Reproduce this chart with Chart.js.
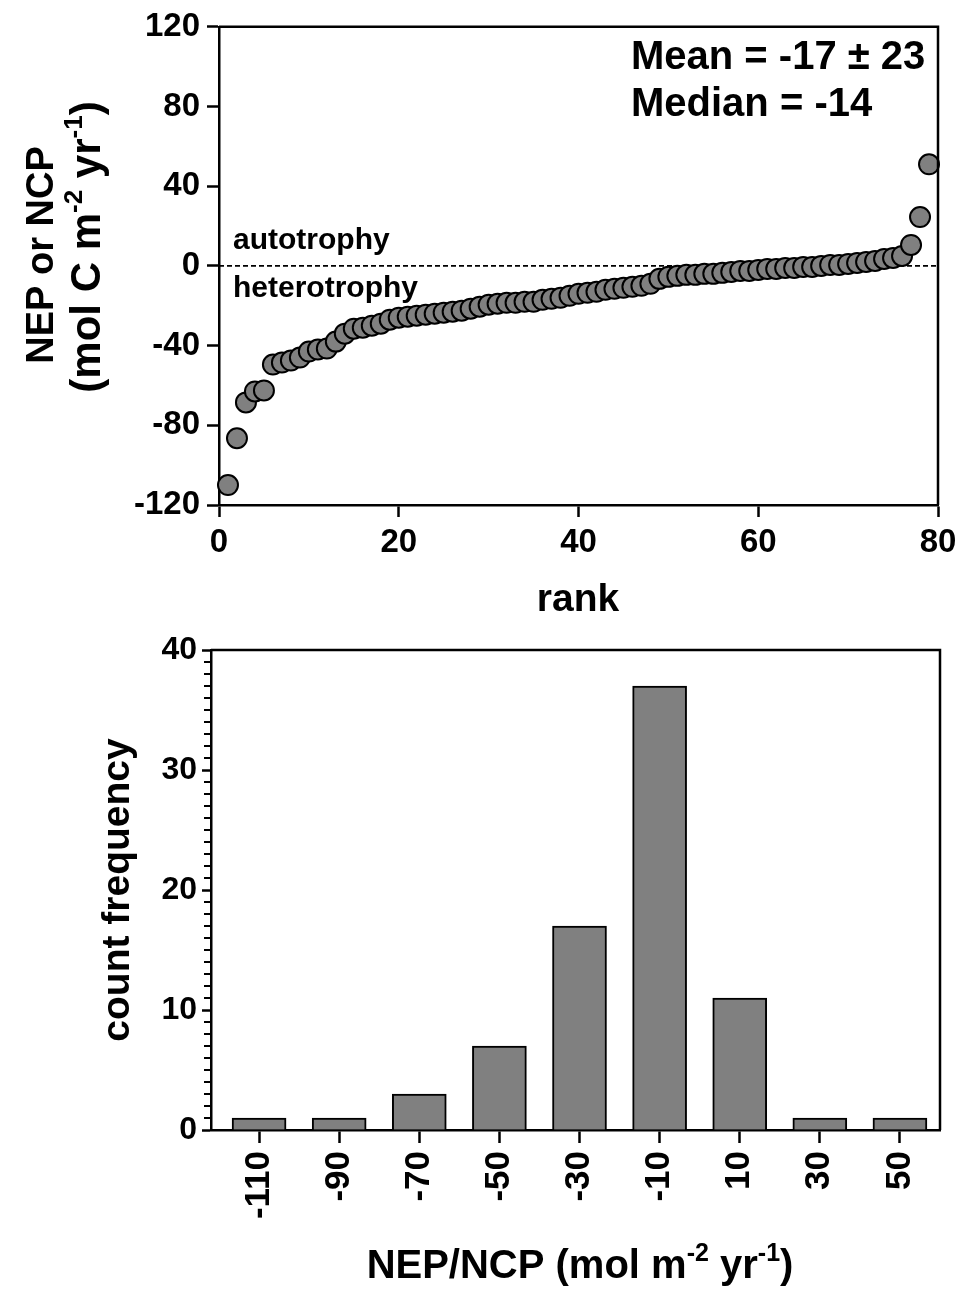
<!DOCTYPE html>
<html>
<head>
<meta charset="utf-8">
<script src="https://cdn.jsdelivr.net/npm/chart.js@4/dist/chart.umd.min.js"></script>
<style>
  body { margin: 0; background: #fff; }
  #wrap { position: relative; width: 963px; height: 1292px; }
  canvas { position: absolute; left: 0; }
  #rankChart { top: 0; }
  #histChart { top: 625px; }
</style>
</head>
<body>
<div id="wrap">
  <canvas id="rankChart" width="963" height="625"></canvas>
  <canvas id="histChart" width="963" height="667"></canvas>
</div>
<script>
// === Data ===
// NEP / NCP sorted, one value per rank (mol C m-2 yr-1)
const nepValues = [
  -110, -86.5, -68.5, -63, -62.5, -49.5, -48.5, -47.5, -46, -43,
  -42, -41.5, -38, -34, -31.5, -31, -30, -29, -27, -26,
  -25.5, -25, -24.5, -24, -23.5, -23, -22.5, -21.5, -20.5, -19.5,
  -19, -18.5, -18.5, -18, -18, -17, -16.5, -16, -15, -14,
  -13.5, -13, -12, -11.5, -11, -10.5, -10, -9, -6.5, -5.5,
  -5, -4.5, -4.5, -4, -4, -3.5, -3, -2.5, -2.5, -2,
  -1.5, -1.5, -1, -1, -0.5, -0.5, 0, 0.5, 0.5, 1,
  1.5, 2, 2.5, 3.5, 4, 5, 10.5, 24.5, 51
];
const rankTicks = [0, 20, 40, 60, 80];
const nepTicks = [-120, -80, -40, 0, 40, 80, 120];

// histogram
const binCenters = [-110, -90, -70, -50, -30, -10, 10, 30, 50];
const binCounts = [1, 1, 3, 7, 17, 37, 11, 1, 1];
const countTicks = [0, 10, 20, 30, 40];

const statLines = ['Mean = -17 \u00b1 23', 'Median = -14'];

const FONT = "'Liberation Sans', Arial, Helvetica, sans-serif";
Chart.defaults.font.family = FONT;
Chart.defaults.color = '#000';

// === Helpers ===
function drawRich(ctx, parts, x, y, size, rotate) {
  ctx.save();
  ctx.translate(x, y);
  if (rotate) ctx.rotate(-Math.PI / 2);
  const big = `bold ${size}px ${FONT}`;
  const small = `bold ${Math.round(size * 0.62)}px ${FONT}`;
  let total = 0;
  parts.forEach(p => {
    ctx.font = p.sup ? small : big;
    p.w = ctx.measureText(p.t).width;
    total += p.w;
  });
  let cx = -total / 2;
  ctx.textBaseline = 'alphabetic';
  ctx.textAlign = 'left';
  ctx.fillStyle = '#000';
  parts.forEach(p => {
    ctx.font = p.sup ? small : big;
    ctx.fillText(p.t, cx, p.sup ? -size * 0.42 : 0);
    cx += p.w;
  });
  ctx.restore();
}

function fixedTicks(values) {
  return scale => { scale.ticks = values.map(v => ({ value: v })); };
}

const framePlugin = {
  id: 'frame',
  afterDraw(chart) {
    const { ctx, chartArea: a } = chart;
    ctx.save();
    ctx.strokeStyle = '#000';
    ctx.lineWidth = 2.5;
    ctx.beginPath();
    ctx.moveTo(a.left, a.top);
    ctx.lineTo(a.right, a.top);
    ctx.lineTo(a.right, a.bottom);
    ctx.stroke();
    ctx.restore();
  }
};

const axisStyle = {
  border: { display: true, color: '#000', width: 2.5 },
  grid: { drawOnChartArea: false, drawTicks: true, color: '#000', tickWidth: 2.5, offset: false }
};

// === Top: ranked NEP/NCP ===
const rankPlugin = {
  id: 'rankText',
  beforeDatasetsDraw(chart) {
    const { ctx, chartArea: a, scales } = chart;
    const y0 = scales.y.getPixelForValue(0);
    ctx.save();
    ctx.strokeStyle = '#000';
    ctx.lineWidth = 1.6;
    ctx.setLineDash([5, 3]);
    ctx.beginPath();
    ctx.moveTo(a.left, y0);
    ctx.lineTo(a.right, y0);
    ctx.stroke();
    ctx.restore();
  },
  afterDraw(chart) {
    const ctx = chart.ctx;
    ctx.save();
    ctx.fillStyle = '#000';
    ctx.textBaseline = 'alphabetic';
    ctx.font = `bold 30px ${FONT}`;
    ctx.fillText('autotrophy', 233, 249);
    ctx.fillText('heterotrophy', 233, 297);
    ctx.font = `bold 40px ${FONT}`;
    ctx.fillText(statLines[0], 631, 69);
    ctx.fillText(statLines[1], 631, 116);
    ctx.restore();
    drawRich(ctx, [{ t: 'rank' }], 578, 611, 39, false);
    drawRich(ctx, [{ t: 'NEP or NCP' }], 53, 255, 38, true);
    drawRich(ctx, [{ t: '(mol C m' }, { t: '-2', sup: true }, { t: ' yr' }, { t: '-1', sup: true }, { t: ')' }],
      100, 247, 42, true);
  }
};

new Chart(document.getElementById('rankChart'), {
  type: 'scatter',
  data: {
    datasets: [{
      data: nepValues.map((v, i) => ({ x: i + 1, y: v })),
      backgroundColor: '#808080',
      borderColor: '#000',
      borderWidth: 2,
      pointRadius: 10,
      clip: false
    }]
  },
  options: {
    responsive: false,
    animation: false,
    events: [],
    layout: { padding: { left: 0, top: 22, right: 25, bottom: 0 } },
    plugins: { legend: { display: false }, tooltip: { enabled: false } },
    scales: {
      x: {
        type: 'linear', min: 0, max: 80,
        afterBuildTicks: fixedTicks(rankTicks),
        afterFit: s => { s.height = 120; },
        border: axisStyle.border,
        grid: { ...axisStyle.grid, tickLength: 12 },
        ticks: { font: { size: 33, weight: 'bold' }, padding: 6, maxRotation: 0 }
      },
      y: {
        type: 'linear', min: -120, max: 120,
        afterBuildTicks: fixedTicks(nepTicks),
        afterFit: s => { s.width = 219; },
        border: axisStyle.border,
        grid: { ...axisStyle.grid, tickLength: 12 },
        ticks: { font: { size: 33, weight: 'bold' }, padding: 7 }
      }
    }
  },
  plugins: [framePlugin, rankPlugin]
});

// === Bottom: histogram ===
const histPlugin = {
  id: 'histText',
  afterDraw(chart) {
    const { ctx, chartArea: a, scales } = chart;
    // minor ticks every 1 count
    ctx.save();
    ctx.strokeStyle = '#000';
    ctx.lineWidth = 2;
    ctx.beginPath();
    for (let v = 0; v <= 40; v++) {
      if (v % 10 === 0) continue;
      const py = scales.y.getPixelForValue(v);
      ctx.moveTo(a.left - 7, py);
      ctx.lineTo(a.left, py);
    }
    ctx.stroke();
    ctx.restore();
    drawRich(ctx, [{ t: 'count frequency' }], 129, 265, 39, true);
    drawRich(ctx, [{ t: 'NEP/NCP (mol m' }, { t: '-2', sup: true }, { t: ' yr' }, { t: '-1', sup: true }, { t: ')' }],
      580, 653, 40, false);
  }
};

new Chart(document.getElementById('histChart'), {
  type: 'bar',
  data: {
    datasets: [{
      data: binCenters.map((c, i) => ({ x: c, y: binCounts[i] })),
      backgroundColor: '#808080',
      borderColor: '#000',
      borderWidth: 2,
      borderSkipped: 'start',
      barThickness: 54
    }]
  },
  options: {
    responsive: false,
    animation: false,
    events: [],
    layout: { padding: { left: 0, top: 25, right: 23, bottom: 0 } },
    plugins: { legend: { display: false }, tooltip: { enabled: false } },
    scales: {
      x: {
        type: 'linear', min: -122, max: 60, offset: false,
        afterBuildTicks: fixedTicks(binCenters),
        afterFit: s => { s.height = 162; },
        border: axisStyle.border,
        grid: { ...axisStyle.grid, tickLength: 13 },
        ticks: { font: { size: 35, weight: 'bold' }, padding: 8, minRotation: 90, maxRotation: 90, autoSkip: false }
      },
      y: {
        type: 'linear', min: 0, max: 40,
        afterBuildTicks: fixedTicks(countTicks),
        afterFit: s => { s.width = 211; },
        border: axisStyle.border,
        grid: { ...axisStyle.grid, tickLength: 9 },
        ticks: { font: { size: 32, weight: 'bold' }, padding: 5 }
      }
    }
  },
  plugins: [framePlugin, histPlugin]
});
</script>
</body>
</html>
